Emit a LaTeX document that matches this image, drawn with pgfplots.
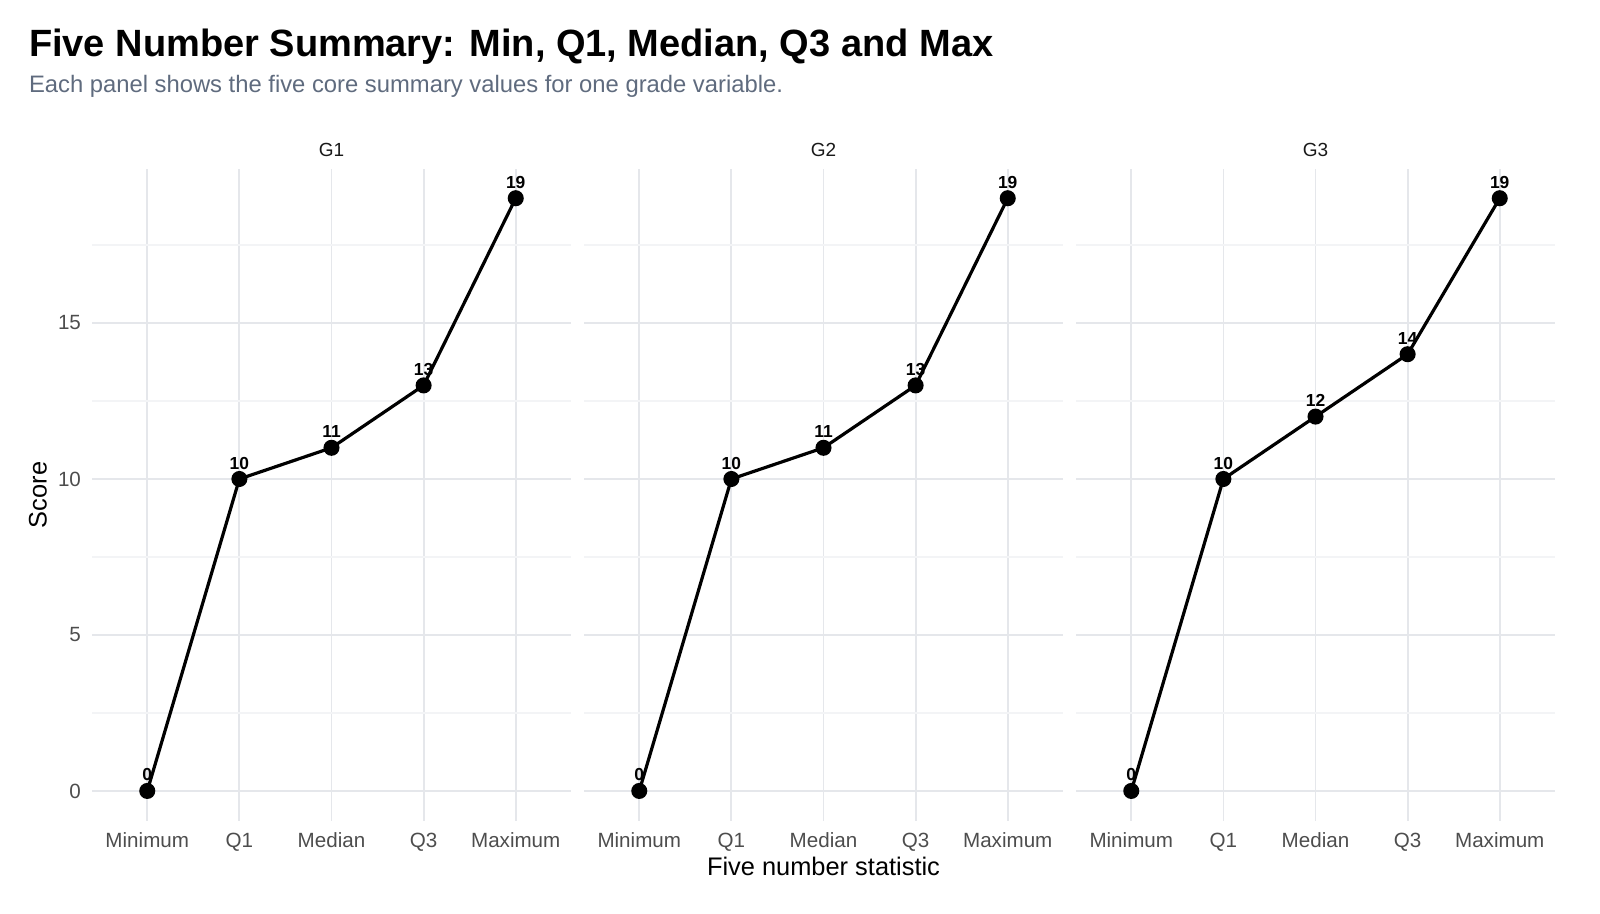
\documentclass[border=0pt]{standalone}
\usepackage{pgfplots}
\pgfplotsset{compat=1.18}
\usepackage{fontspec}
\setmainfont{Liberation Sans}
\definecolor{gridmaj}{HTML}{E5E7EB}
\definecolor{gridmin}{HTML}{F3F4F6}
\definecolor{tickgray}{HTML}{4D4D4D}
\definecolor{subgray}{HTML}{5F6B7E}
\pgfplotsset{
  panel/.style={
    anchor=south west, scale only axis, width=239.5pt, height=326pt,
    xmin=0.4, xmax=5.6, ymin=-0.95, ymax=19.95,
    xtick={1,2,3,4,5}, xticklabels={Minimum,Q1,Median,Q3,Maximum},
    ytick={0,5,10,15}, minor ytick={2.5,7.5,12.5,17.5},
    grid=both,
    major grid style={draw=gridmaj, line width=0.9pt},
    minor grid style={draw=gridmin, line width=0.7pt},
    axis line style={draw=none}, tick style={draw=none},
    /pgf/number format/assume math mode=true,
    tick label style={font=\fontsize{10.3}{11}\selectfont, text=tickgray},
    xticklabel style={yshift=-2.5pt},
    yticklabel style={xshift=-2.0pt},
    title style={at={(0.5,1)}, anchor=center, yshift=3.15pt, font=\fontsize{9.5}{10}\selectfont, text=black!90},
    nodes near coords,
    nodes near coords style={font=\bfseries\fontsize{8.7}{10}\selectfont, anchor=south, inner sep=0pt, yshift=4.1pt, text=black},
  },
  ser/.style={black, line width=1.6pt, mark=*, mark size=3.2pt, mark options={fill=black}},
}
\begin{document}
\begin{tikzpicture}
\path[use as bounding box] (0,0) rectangle (800pt,457pt);
\begin{axis}[panel, at={(46pt,46.7pt)}, title={G1}]
\addplot[ser] coordinates {(1,0) (2,10) (3,11) (4,13) (5,19)};
\end{axis}
\begin{axis}[panel, at={(292pt,46.7pt)}, title={G2}, yticklabels={}]
\addplot[ser] coordinates {(1,0) (2,10) (3,11) (4,13) (5,19)};
\end{axis}
\begin{axis}[panel, at={(538pt,46.7pt)}, title={G3}, yticklabels={}]
\addplot[ser] coordinates {(1,0) (2,10) (3,12) (4,14) (5,19)};
\end{axis}
\node[rotate=90, font=\fontsize{12.7}{14}\selectfont] at (19pt,209.5pt) {Score};
\node[font=\fontsize{12.7}{14}\selectfont] at (411.75pt,24pt) {Five number statistic};
\node[anchor=base west, inner sep=0pt, font=\bfseries\fontsize{19}{22}\selectfont] at (14.3pt,428.5pt) {Five Number Summary: Min, Q1, Median, Q3 and Max};
\node[anchor=base west, inner sep=0pt, font=\fontsize{11.9}{13}\selectfont, text=subgray] at (14.3pt,410.8pt) {Each panel shows the five core summary values for one grade variable.};
\end{tikzpicture}
\end{document}
